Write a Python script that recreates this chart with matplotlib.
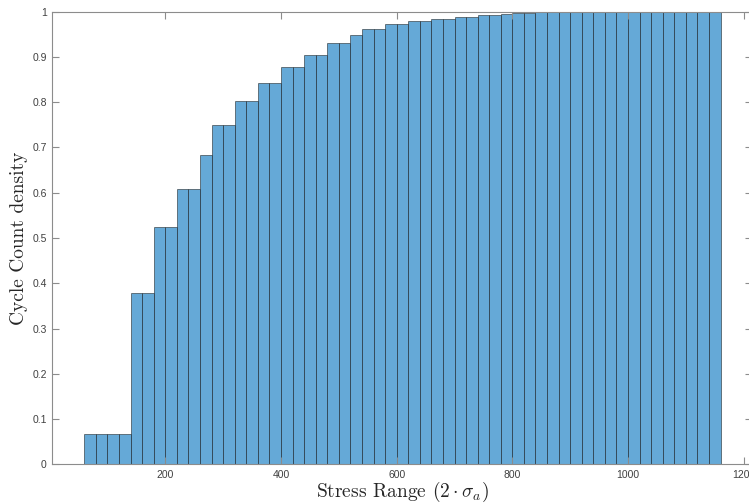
import numpy as np
import matplotlib
matplotlib.use('Agg')
import matplotlib.pyplot as plt
from matplotlib.ticker import FuncFormatter


# Cumulative cycle count density, bins of width 20 starting at 60
bin_width = 20
bin_start = 60
density = [0.066, 0.066, 0.066, 0.066,
           0.378, 0.378,
           0.525, 0.525,
           0.609, 0.609,
           0.683,
           0.750, 0.750,
           0.802, 0.802,
           0.842, 0.842,
           0.877, 0.877,
           0.905, 0.905,
           0.930, 0.930,
           0.948,
           0.962, 0.962,
           0.972, 0.972,
           0.979, 0.979,
           0.984, 0.984,
           0.988, 0.988,
           0.992, 0.992,
           0.995,
           0.998, 0.998,
           0.999, 0.999, 0.999, 0.999,
           1.0, 1.0, 1.0, 1.0, 1.0, 1.0, 1.0, 1.0, 1.0, 1.0, 1.0, 1.0]
x_ticks = [200, 400, 600, 800, 1000, 1200]
y_ticks = [0, 0.1, 0.2, 0.3, 0.4, 0.5, 0.6, 0.7, 0.8, 0.9, 1]

left_edges = bin_start + bin_width * np.arange(len(density))

plt.rcParams['mathtext.fontset'] = 'cm'

fig = plt.figure(figsize=(7.49, 5.03), dpi=100)
ax = fig.add_axes([0.0698, 0.0769, 0.934, 0.8998])

ax.bar(left_edges, density, width=bin_width, align='edge',
       color='#65a9d7', edgecolor=(0, 0, 0, 0.55), linewidth=0.6)

ax.set_xlim([4.7, 1214])
ax.set_ylim([0, 1])
ax.set_xticks(x_ticks)
ax.set_yticks(y_ticks)
ax.yaxis.set_major_formatter(FuncFormatter(lambda v, p: '%g' % v))

for s in ax.spines.values():
    s.set_color('#8c8c8c')
    s.set_linewidth(0.8)
ax.tick_params(direction='in', length=5, width=0.8, color='#8c8c8c',
               labelcolor='#404040', labelsize=7.5,
               top=True, right=True, pad=4)
for lab in ax.get_xticklabels() + ax.get_yticklabels():
    lab.set_family('Liberation Sans')

# LaTeX-like axis labels
ax.set_xlabel(r'Stress Range $(2\cdot\sigma_a)$', fontsize=14,
              color='#262626', labelpad=0)
ax.set_ylabel('Cycle Count density', fontsize=14, color='#262626', labelpad=3)
ax.xaxis.label.set_fontfamily(['cmr10', 'DejaVu Serif'])
ax.yaxis.label.set_fontfamily(['cmr10', 'DejaVu Serif'])

fig.savefig('out.png', dpi=100)
